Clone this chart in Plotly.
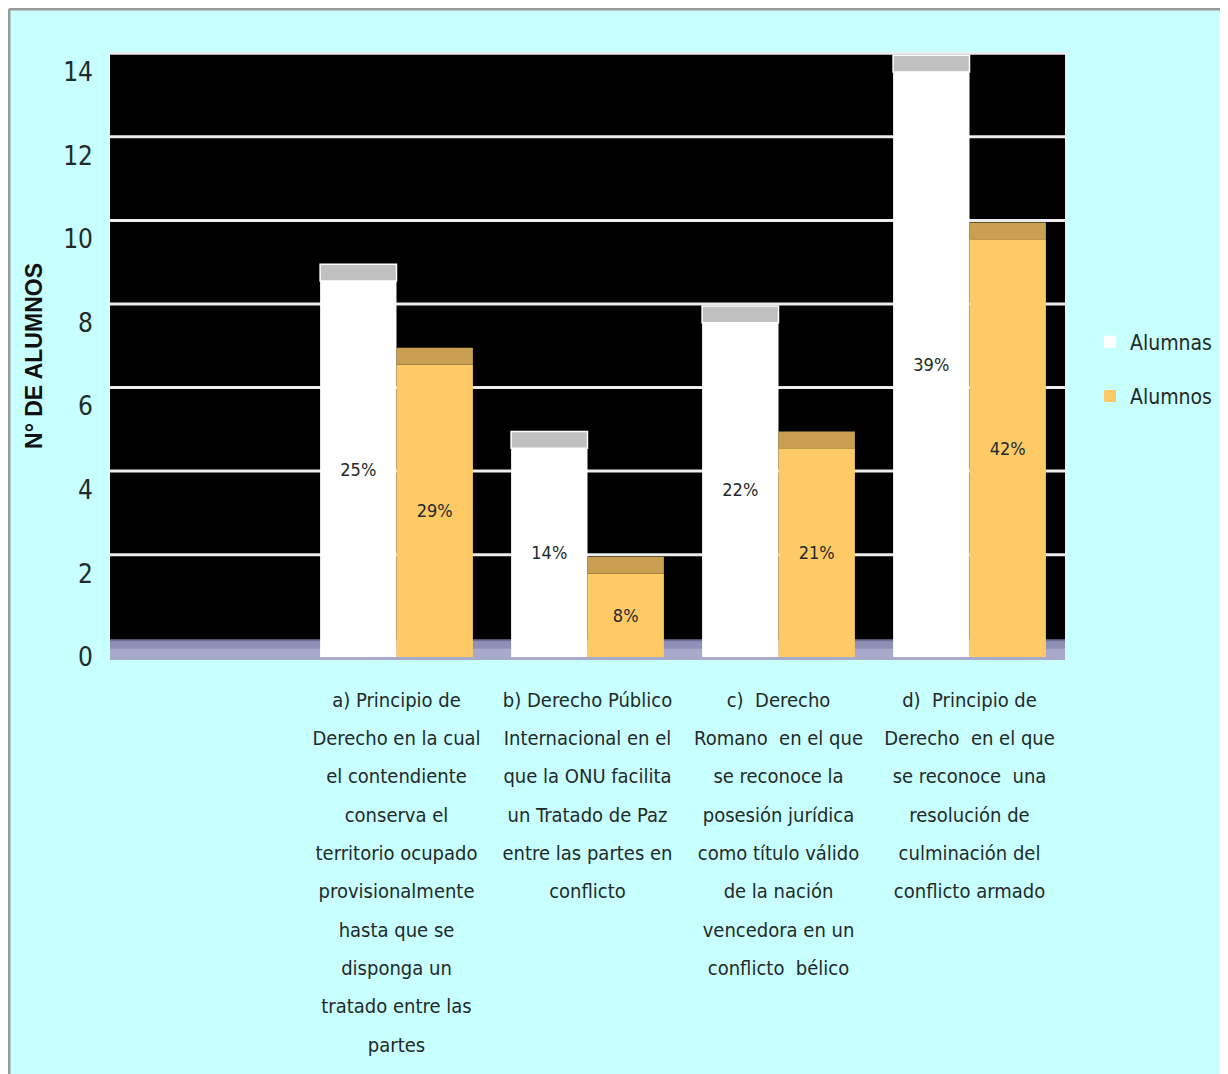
import plotly.graph_objects as go

# Datos
categorias = [
    "",
    "a) Principio de<br>Derecho en la cual<br>el contendiente<br>conserva el<br>territorio ocupado<br>provisionalmente<br>hasta que se<br>disponga un<br>tratado entre las<br>partes",
    "b) Derecho Público<br>Internacional en el<br>que la ONU facilita<br>un Tratado de Paz<br>entre las partes en<br>conflicto",
    "c)  Derecho<br>Romano  en el que<br>se reconoce la<br>posesión jurídica<br>como título válido<br>de la nación<br>vencedora en un<br>conflicto  bélico",
    "d)  Principio de<br>Derecho  en el que<br>se reconoce  una<br>resolución de<br>culminación del<br>conflicto armado",
]
alumnas = [None, 9, 5, 8, 14]
alumnos = [None, 7, 2, 5, 10]
pct_alumnas = ["", "25%", "14%", "22%", "39%"]
pct_alumnos = ["", "29%", "8%", "21%", "42%"]
y_ticks = [0, 2, 4, 6, 8, 10, 12, 14]

FONT = "Liberation Sans Narrow, DejaVu Sans Condensed, Arial Narrow, sans-serif"
TXT = "#1f2a2a"
FONDO = "#c8ffff"
BLANCO = "#ffffff"
NARANJA = "#fdca66"
CAP_GRIS = "#c0c0c0"
CAP_NAR = "#c9a052"
prof = 0.45  # profundidad del efecto 3D (unidades del eje y)
cap = 0.4

# geometría (px de la figura)
W, H = 1220, 1066
L, R, T, B = 102, 163, 44, 414
PW, PH = W - L - R, H - T - B

x = list(range(len(categorias)))


def lineas(txt, size):
    # cada línea con su propio tamaño, dejando el interlineado del tamaño base
    return "<br>".join(f'<span style="font-size:{size}px">{l}</span>' for l in txt.split("<br>"))


fig = go.Figure()
fig.add_trace(go.Bar(
    x=x, y=alumnas, name="Alumnas", offsetgroup="1", legendgroup="1",
    marker=dict(color=BLANCO, line=dict(width=0)),
    text=pct_alumnas, textposition="inside", insidetextanchor="middle",
    textfont=dict(family=FONT, size=18, color=TXT), textangle=0,
))
fig.add_trace(go.Bar(
    x=x, y=alumnos, name="Alumnos", offsetgroup="2", legendgroup="2",
    marker=dict(color=NARANJA, line=dict(width=0)),
    text=pct_alumnos, textposition="inside", insidetextanchor="middle",
    textfont=dict(family=FONT, size=18, color=TXT), textangle=0,
))
# tapas superiores (efecto 3D)
fig.add_trace(go.Bar(
    x=x, y=[cap if v is not None else None for v in alumnas], base=alumnas,
    offsetgroup="1", showlegend=False, hoverinfo="skip",
    marker=dict(color=CAP_GRIS, line=dict(color=BLANCO, width=1.5)),
))
fig.add_trace(go.Bar(
    x=x, y=[cap if v is not None else None for v in alumnos], base=alumnos,
    offsetgroup="2", showlegend=False, hoverinfo="skip",
    marker=dict(color=CAP_NAR, line=dict(width=0)),
))

# piso (degradado simple en dos bandas)
fig.add_shape(type="rect", xref="paper", yref="y", x0=0, x1=1, y0=-0.07, y1=0.4,
              fillcolor="#a9aacb", line=dict(width=0), layer="between")
fig.add_shape(type="rect", xref="paper", yref="y", x0=0, x1=1, y0=0.2, y1=0.4,
              fillcolor="#8f90b6", line=dict(width=0), layer="between")
fig.add_shape(type="line", xref="paper", yref="y", x0=0, x1=1, y0=0.4, y1=0.4,
              line=dict(color="#6f7099", width=2), layer="between")
# líneas de división desplazadas por la profundidad
for t in y_ticks[1:]:
    fig.add_shape(type="line", xref="paper", yref="y", x0=0, x1=1, y0=t + prof, y1=t + prof,
                  line=dict(color="#ececec", width=3), layer="between")

# borde gris del marco (izquierda y arriba)
fig.add_shape(type="line", xref="paper", yref="paper",
              x0=-(L - 1) / PW, x1=-(L - 1) / PW, y0=-(B + 10) / PH, y1=(PH + T - 1) / PH,
              line=dict(color="#9a9a9a", width=3))
fig.add_shape(type="line", xref="paper", yref="paper",
              x0=-(L - 1) / PW, x1=(PW + R + 10) / PW, y0=(PH + T - 1) / PH, y1=(PH + T - 1) / PH,
              line=dict(color="#9a9a9a", width=3))

fig.update_layout(
    width=W, height=H,
    margin=dict(l=L, r=R, t=T, b=B, autoexpand=False),
    paper_bgcolor=FONDO, plot_bgcolor="#000000",
    barmode="group", bargap=0.2, bargroupgap=0,
    font=dict(family=FONT, color=TXT),
    legend=dict(xref="container", yref="container", x=1082 / W, y=1 - 369 / H + 8 / H,
                xanchor="left", yanchor="middle",
                font=dict(family=FONT, size=21, color=TXT),
                bgcolor="rgba(0,0,0,0)", tracegroupgap=24, itemwidth=30),
    xaxis=dict(
        range=[-0.5, len(categorias) - 0.5],
        tickvals=x, ticktext=[lineas(c, 20) for c in categorias], tickangle=0,
        tickfont=dict(family=FONT, size=29.5, color=TXT),
        showgrid=False, zeroline=False, showline=False, ticks="", ticklabelstandoff=16,
    ),
    yaxis=dict(
        range=[-0.07, 14.48], tickvals=y_ticks,
        tickfont=dict(family=FONT, size=26, color=TXT),
        showgrid=False, zeroline=False, showline=False, ticks="", ticklabelstandoff=16,
        title=dict(text="<b>N° DE ALUMNOS</b>", font=dict(family="Liberation Sans, Arial, sans-serif", size=23, color="#111"),
                   standoff=14),
    ),
)

fig.write_html("out.html")
